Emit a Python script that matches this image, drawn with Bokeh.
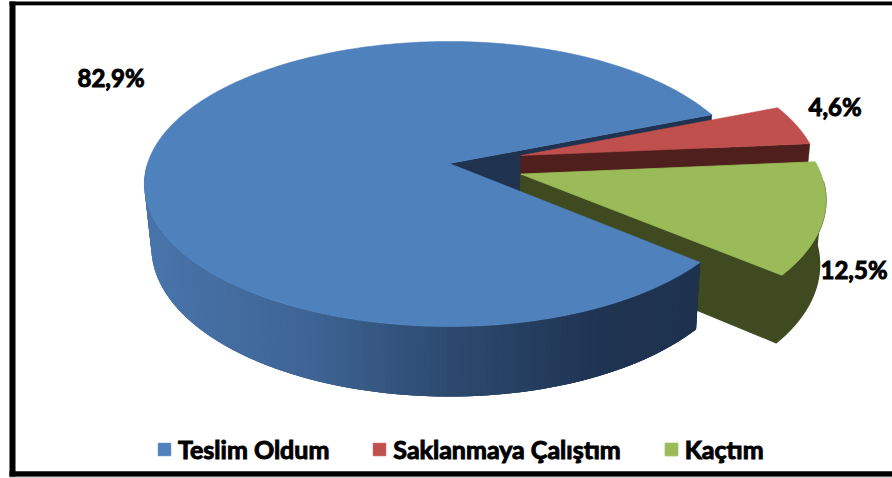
import math
from bokeh.plotting import figure
from bokeh.models import ColumnDataSource, Range1d, Legend, LegendItem
from bokeh.core.properties import value
from bokeh.embed import file_html
from bokeh.resources import INLINE

categories = ["Teslim Oldum", "Saklanmaya Çalıştım", "Kaçtım"]
shares = [82.9, 4.6, 12.5]
labels = ["82,9%", "4,6%", "12,5%"]

top_colors = ["#4f81bd", "#c0504d", "#9bbb59"]
wall_colors = ["#1f3350", "#4f1f1e", "#3f4a21"]
blue_wall_stops = [(150, (72, 116, 170)), (300, (62, 100, 148)), (430, (45, 75, 112)),
                   (590, (31, 52, 82)), (700, (30, 50, 78))]

# projection of the tilted pie
CX, CY, RX, RX_RIGHT, RY, K = 449.0, 163.0, 302.0, 297.0, 139.6, 0.144
BASE_RX, BASE_RX_RIGHT, BASE_CY, BASE_RY = 295.0, 292.0, 225.5, 146.0
FIRST_ANGLE = -40.0
EXPLODE = [0.0, 0.249, 0.249]


def proj(u, v, base=False):
    d = 1 + K * v
    if base:
        return CX + (BASE_RX_RIGHT if u > 0 else BASE_RX) * u / d, BASE_CY - BASE_RY * v / d
    return CX + (RX_RIGHT if u > 0 else RX) * u / d, CY - RY * v / d


def arc(a0, a1, off, base=False, n=120):
    pts = []
    for i in range(n + 1):
        a = math.radians(a0 + (a1 - a0) * i / n)
        pts.append(proj(off[0] + math.cos(a), off[1] + math.sin(a), base))
    return pts


def lerp_color(x):
    s = blue_wall_stops
    if x <= s[0][0]:
        c = s[0][1]
    elif x >= s[-1][0]:
        c = s[-1][1]
    else:
        for (x0, c0), (x1, c1) in zip(s, s[1:]):
            if x0 <= x <= x1:
                t = (x - x0) / (x1 - x0)
                c = tuple(c0[j] + (c1[j] - c0[j]) * t for j in range(3))
                break
    return "#%02x%02x%02x" % tuple(int(round(v)) for v in c)


# slice angles: clockwise from FIRST_ANGLE
spans = []
a = FIRST_ANGLE
for s in shares:
    spans.append((a, a - s * 3.6))
    a -= s * 3.6

offs = []
for (a0, a1), e in zip(spans, EXPLODE):
    m = math.radians((a0 + a1) / 2)
    offs.append((e * math.cos(m), e * math.sin(m)))

p = figure(width=892, height=478, output_backend="svg", toolbar_location=None,
           x_range=Range1d(0, 892), y_range=Range1d(478, 0),
           min_border=0, outline_line_color=None)
p.axis.visible = False
p.grid.visible = False
p.background_fill_color = "white"
p.border_fill_color = "white"


def poly(pts, color, lw=0.5):
    return p.patch([q[0] for q in pts], [q[1] for q in pts],
                   fill_color=color, line_color=color, line_width=lw)


def radial_wall(i, angle):
    off = offs[i]
    t = math.radians(angle)
    ou, ov = off[0] + math.cos(t), off[1] + math.sin(t)
    return [proj(off[0], off[1]), proj(ou, ov), proj(ou, ov, True), proj(off[0], off[1], True)]


# back to front: blue notch wall, red, green, then the blue front
poly(radial_wall(0, spans[0][1]), wall_colors[0])

poly(radial_wall(1, spans[1][1]), wall_colors[1])
red_top = poly([proj(*offs[1])] + arc(spans[1][0], spans[1][1], offs[1]), top_colors[1])

poly(radial_wall(2, spans[2][1]), wall_colors[2], 1.2)
poly(arc(spans[2][0] - 8, spans[2][1], offs[2]) + arc(spans[2][1], spans[2][0] - 8, offs[2], True),
     wall_colors[2], 1.2)
green_top = poly([proj(*offs[2])] + arc(spans[2][0], spans[2][1], offs[2]), top_colors[2], 0.8)

# blue outer wall from the corner round to the left, each strip overlapping the next
top_pts = arc(spans[0][0], -180, offs[0], n=150)
base_pts = arc(spans[0][0], -180, offs[0], True, n=150)
xs, ys, cols = [], [], []
for i in range(len(top_pts) - 1):
    j = max(i - 2, 0)
    q = [top_pts[j], top_pts[i + 1], base_pts[i + 1], base_pts[j]]
    xs.append([c[0] for c in q])
    ys.append([c[1] for c in q])
    cols.append(lerp_color((top_pts[i][0] + top_pts[i + 1][0]) / 2))
src = ColumnDataSource(dict(xs=xs, ys=ys, c=cols))
p.patches("xs", "ys", source=src, fill_color="c", line_color=None)

blue_top = poly([proj(*offs[0])] + arc(spans[0][0], spans[0][1], offs[0], n=360), top_colors[0])

# data labels
lab_x = [77, 808, 820]
lab_y = [77, 106, 269]
p.text(lab_x, lab_y, text=labels, text_font=value("Lato"), text_font_style="bold",
       text_font_size="24px", text_color="black", text_outline_color="black",
       text_align="left", text_baseline="middle")

# frame: open on the right, with a thin grey edge under the top and bottom rules
p.line([9, 892], [4.8, 4.8], line_color="#9a9a9a", line_width=1)
p.line([9, 892], [476.5, 476.5], line_color="#9a9a9a", line_width=1)
p.line([9, 892], [2.7, 2.7], line_color="black", line_width=3.4)
p.line([12, 12], [1, 476], line_color="black", line_width=6)
p.line([9, 892], [473.4, 473.4], line_color="black", line_width=5.4)

legend = Legend(items=[LegendItem(label=categories[i], renderers=[r])
                       for i, r in enumerate([blue_top, red_top, green_top])],
                orientation="horizontal", location=(156, 14), background_fill_alpha=0,
                border_line_color=None, margin=0, padding=0, spacing=42,
                glyph_width=16, glyph_height=16, label_standoff=6,
                label_text_font="Lato", label_text_font_style="bold",
                label_text_font_size="25px", label_text_color="black",
                label_text_outline_color="black")
p.add_layout(legend, "center")

open("out.html", "w").write(file_html(p, INLINE))
